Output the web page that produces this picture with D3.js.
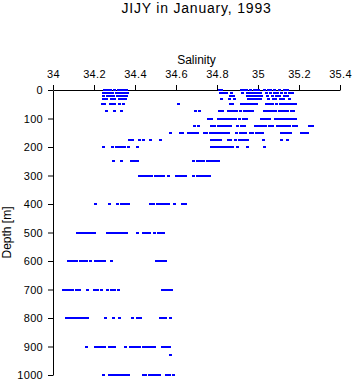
<!DOCTYPE html>
<html>
<head>
<meta charset="utf-8">
<script src="https://cdn.jsdelivr.net/npm/d3@7"></script>
<style>
  html, body { margin: 0; padding: 0; background: #fff; }
  svg { display: block; }
  text { font-family: "Liberation Sans", Arial, sans-serif; fill: #000; }
</style>
</head>
<body>
<svg id="chart" width="353" height="384"></svg>
<script>
// ---- data ----
const title = "JIJY in January, 1993";
const xLabel = "Salinity";
const yLabel = "Depth [m]";
const xTicks = [34, 34.2, 34.4, 34.6, 34.8, 35, 35.2, 35.4];
const yTicks = [0, 100, 200, 300, 400, 500, 600, 700, 800, 900, 1000];

// sampling depths (m)
const depthLevels = [0, 10, 20, 30, 50, 75, 100, 125, 150, 175, 200, 250, 300, 400, 500, 600, 700, 800, 900, 930, 1000];

// salinity observations at each depth level (same order as depthLevels)
const sal0    = [34.25, 34.265, 34.28, 34.30, 34.315, 34.33, 34.345, 34.355,
                 34.81, 34.82, 34.915, 34.925, 34.94, 34.96, 34.98, 34.99, 35.0, 35.03, 35.05, 35.06, 35.08, 35.10, 35.125, 35.14];
const sal10   = [34.245, 34.26, 34.275, 34.29, 34.305, 34.32, 34.335, 34.35, 34.36,
                 34.815, 34.83, 34.845, 34.87, 34.92, 34.945, 34.955, 34.97, 34.985, 35.0, 35.01, 35.04, 35.06, 35.08, 35.095, 35.11, 35.13, 35.15, 35.165];
const sal20   = [34.245, 34.265, 34.28, 34.295, 34.31, 34.325, 34.34, 34.355,
                 34.865, 34.88, 34.945, 34.96, 34.975, 34.99, 35.005, 35.015, 35.045, 35.07, 35.09, 35.10, 35.125, 35.14];
const sal30   = [34.245, 34.26, 34.285, 34.30, 34.32, 34.335, 34.35,
                 34.82, 34.86, 34.885, 34.95, 34.965, 34.98, 34.995, 35.01, 35.05, 35.075, 35.085, 35.105, 35.12, 35.15];
const sal50   = [34.24, 34.25, 34.28, 34.29, 34.30, 34.32, 34.34, 34.61,
                 34.865, 34.875, 34.915, 34.925, 34.94, 34.955, 34.965, 34.98, 34.99, 35.04, 35.055, 35.07, 35.09, 35.105, 35.12, 35.135, 35.15, 35.165, 35.18];
const sal75   = [34.26, 34.30, 34.33, 34.695, 34.71, 34.81, 34.825, 34.855, 34.87, 34.885, 34.895, 34.91, 34.93, 34.945, 34.96, 34.972,
                 35.03, 35.045, 35.055, 35.07, 35.085, 35.10, 35.115, 35.13, 35.14, 35.16, 35.172];
const sal100  = [34.755, 34.77, 34.805, 34.82, 34.835, 34.845, 34.86, 34.87, 34.875, 34.89, 34.905, 34.925, 34.94,
                 35.015, 35.03, 35.04, 35.053, 35.085, 35.095, 35.10, 35.115, 35.13, 35.14, 35.152, 35.16, 35.172, 35.182];
const sal125  = [34.69, 34.705, 34.772, 34.785, 34.805, 34.82, 34.835, 34.85, 34.865, 34.90, 34.915, 34.93, 34.985, 34.997,
                 35.012, 35.025, 35.035, 35.055, 35.07, 35.095, 35.108, 35.12, 35.135, 35.15, 35.172, 35.183, 35.25, 35.265];
const sal150  = [34.57, 34.62, 34.63, 34.658, 34.672, 34.686, 34.70, 34.735, 34.748, 34.768, 34.782, 34.795, 34.81, 34.825, 34.84, 34.855,
                 34.895, 34.91, 34.925, 34.935, 34.962, 34.972, 34.992, 35.005, 35.02, 35.11, 35.125, 35.14, 35.155, 35.21, 35.225, 35.24];
const sal175  = [34.37, 34.385, 34.42, 34.44, 34.472, 34.522, 34.77, 34.785, 34.80, 34.815, 34.852, 34.865, 34.89, 34.905, 34.92, 34.935, 34.945,
                 35.025, 35.11, 35.14];
const sal200  = [34.245, 34.29, 34.305, 34.32, 34.335, 34.348, 34.365, 34.41, 34.77, 34.785, 34.80, 34.815, 34.83, 34.845, 34.86, 34.872,
                 34.897, 34.945, 35.027];
const sal250  = [34.295, 34.333, 34.38, 34.395, 34.41, 34.685, 34.70, 34.715, 34.73, 34.75, 34.765, 34.78, 34.795, 34.807];
const sal300  = [34.42, 34.435, 34.45, 34.465, 34.478, 34.498, 34.512, 34.525, 34.538, 34.562, 34.60, 34.615, 34.63, 34.645,
                 34.685, 34.70, 34.713, 34.725, 34.74, 34.752, 34.762];
const sal400  = [34.206, 34.275, 34.313, 34.33, 34.345, 34.358, 34.368, 34.475, 34.49, 34.505, 34.52, 34.535, 34.55, 34.562, 34.59, 34.63, 34.645];
const sal500  = [34.115, 34.13, 34.145, 34.16, 34.175, 34.19, 34.2, 34.263, 34.278, 34.292, 34.306, 34.32, 34.335, 34.348, 34.357,
                 34.41, 34.438, 34.452, 34.468, 34.495, 34.51, 34.525, 34.537];
const sal600  = [34.073, 34.088, 34.1, 34.11, 34.132, 34.146, 34.16, 34.18, 34.205, 34.22, 34.235, 34.25, 34.282, 34.502, 34.517, 34.532, 34.547];
const sal700  = [34.05, 34.065, 34.08, 34.095, 34.11, 34.127, 34.165, 34.2, 34.215, 34.232, 34.262, 34.283, 34.298, 34.315, 34.53, 34.545, 34.56, 34.575];
const sal800  = [34.063, 34.078, 34.092, 34.106, 34.12, 34.135, 34.15, 34.168, 34.255, 34.295, 34.32, 34.385, 34.408, 34.422, 34.522, 34.535, 34.546, 34.573];
const sal900  = [34.163, 34.205, 34.22, 34.235, 34.248, 34.272, 34.285, 34.297, 34.353, 34.378, 34.39, 34.405, 34.418, 34.438, 34.452, 34.465,
                 34.48, 34.493, 34.53, 34.545, 34.56, 34.568];
const sal930  = [34.573];
const sal1000 = [34.245, 34.272, 34.285, 34.298, 34.312, 34.325, 34.34, 34.355, 34.367, 34.438, 34.45, 34.47, 34.483, 34.497, 34.51, 34.518,
                 34.55, 34.568, 34.585];

const salinityByLevel = [sal0, sal10, sal20, sal30, sal50, sal75, sal100, sal125, sal150, sal175, sal200, sal250, sal300,
                         sal400, sal500, sal600, sal700, sal800, sal900, sal930, sal1000];

// ---- build point table ----
const points = [];
depthLevels.forEach((d, i) => salinityByLevel[i].forEach(s => points.push({ s, d })));

// ---- chart ----
const svg = d3.select("#chart");
const x = d3.scaleLinear().domain([34, 35.4]).range([53, 340]);
const y = d3.scaleLinear().domain([0, 1000]).range([90, 375]);

// title
svg.append("text")
  .attr("x", (x.range()[0] + x.range()[1]) / 2)
  .attr("y", 13)
  .attr("text-anchor", "middle")
  .style("font-size", "14px")
  .style("letter-spacing", "0.8px")
  .text(title);

// x axis (top)
const xAxis = svg.append("g")
  .attr("transform", "translate(0,90)")
  .call(d3.axisTop(x).tickValues(xTicks).tickFormat(d3.format("~g")).tickSize(5).tickSizeOuter(0).tickPadding(7));
xAxis.attr("font-family", null).attr("font-size", null);
xAxis.selectAll("text").style("font-size", "11px").style("letter-spacing", "0.3px");

svg.append("text")
  .attr("x", (x.range()[0] + x.range()[1]) / 2)
  .attr("y", 64)
  .attr("text-anchor", "middle")
  .style("font-size", "12px")
  .text(xLabel);

// y axis (left)
const yAxis = svg.append("g")
  .attr("transform", "translate(53,0)")
  .call(d3.axisLeft(y).tickValues(yTicks).tickFormat(d3.format("d")).tickSize(5).tickSizeOuter(0).tickPadding(5));
yAxis.attr("font-family", null).attr("font-size", null);
yAxis.selectAll("text").style("font-size", "11px").style("letter-spacing", "0.3px");

svg.append("text")
  .attr("transform", `translate(11,${(y.range()[0] + y.range()[1]) / 2}) rotate(-90)`)
  .attr("text-anchor", "middle")
  .style("font-size", "12px")
  .text(yLabel);

// points
svg.append("g")
  .selectAll("rect")
  .data(points)
  .join("rect")
  .attr("x", p => Math.round(x(p.s)) - 1)
  .attr("y", p => Math.round(y(p.d)) - 1)
  .attr("width", 3)
  .attr("height", 2)
  .attr("fill", "#0000ff");
</script>
</body>
</html>
